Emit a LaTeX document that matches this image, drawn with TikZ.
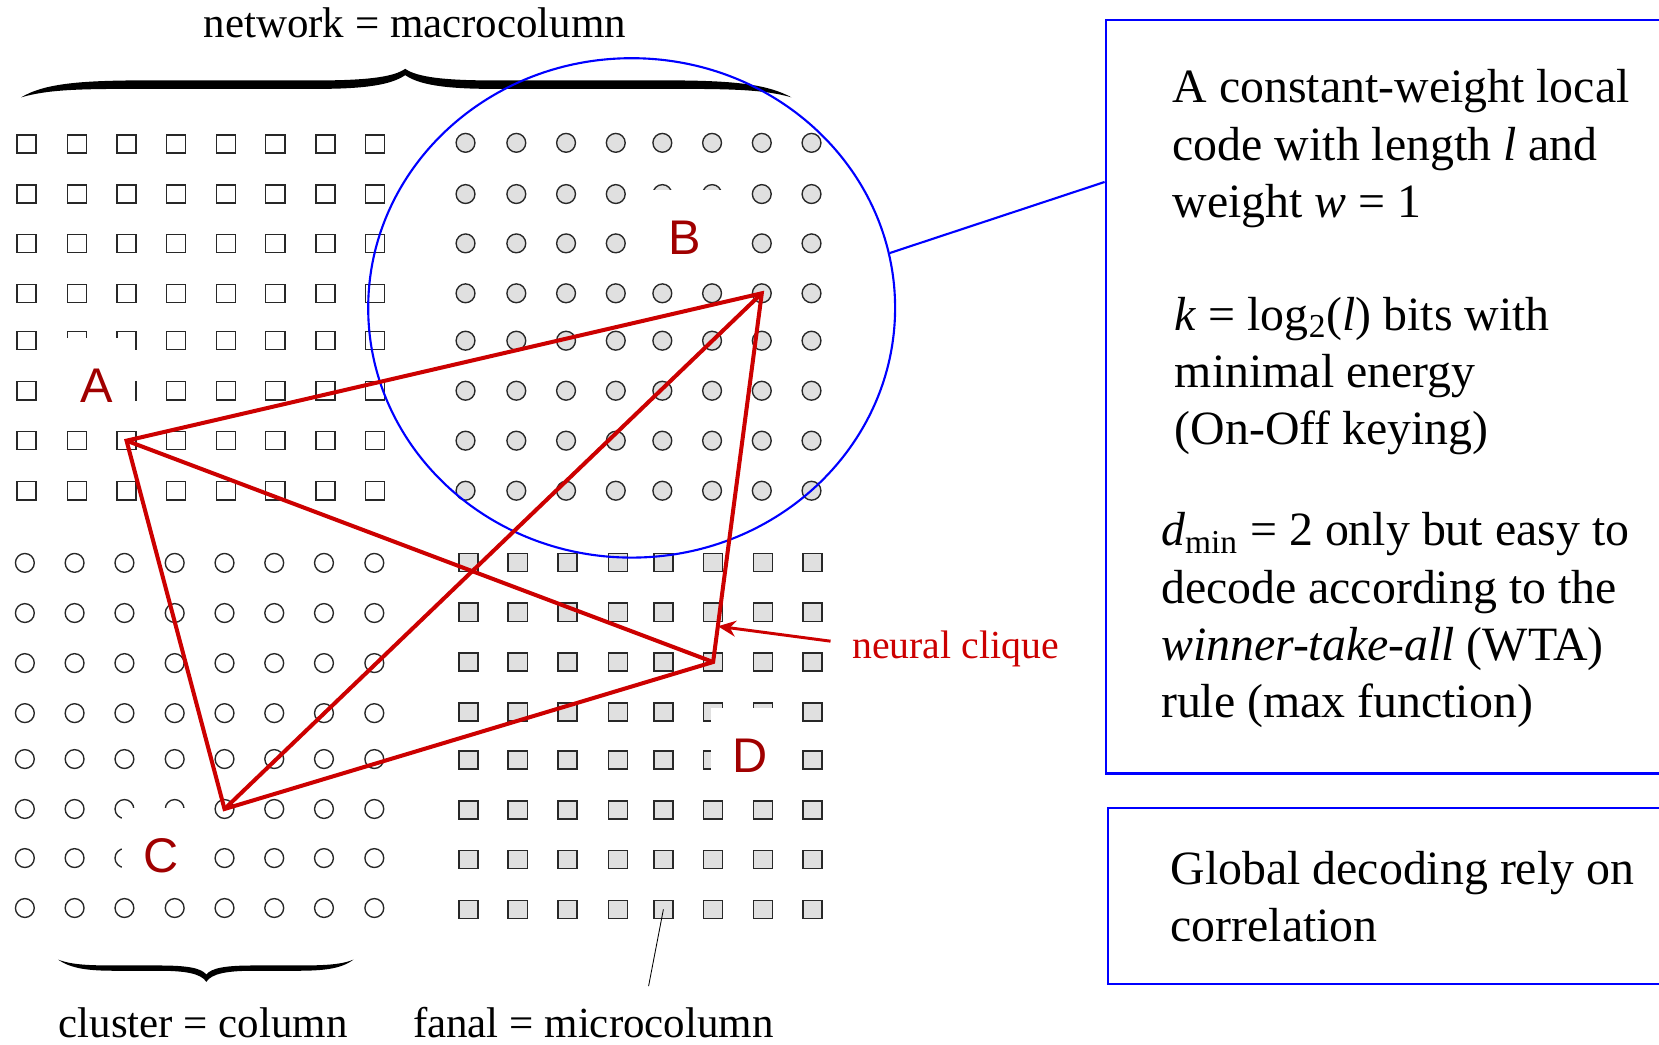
\documentclass[tikz,border=0pt]{standalone}
\usepackage{fontspec}
\setmainfont{Liberation Serif}
\newfontfamily\lblfont{Liberation Sans}
\usetikzlibrary{shapes.geometric,arrows.meta,calc}
\definecolor{cliquered}{RGB}{204,0,0}
\definecolor{lblred}{RGB}{160,0,0}
\definecolor{cellgray}{RGB}{224,224,224}
\definecolor{cellline}{RGB}{40,40,40}
\begin{document}
\begin{tikzpicture}[x=0.5pt,y=-0.5pt,
  sqw/.style={draw=cellline,line width=0.65pt,rectangle,minimum width=9pt,minimum height=8.6pt,inner sep=0},
  sqg/.style={sqw,fill=cellgray},
  ciw/.style={draw=cellline,line width=0.65pt,circle,minimum size=8.9pt,inner sep=0},
  cig/.style={ciw,fill=cellgray},
  clique/.style={draw=cliquered,line width=1.9pt,line join=miter},
  lbl/.style={fill=white,inner sep=0,minimum width=37pt,text=lblred,font=\lblfont\fontsize{23}{23}\selectfont,anchor=base},
  seriftxt/.style={font=\fontsize{20.3}{24}\selectfont,inner sep=0,anchor=base west},
  boxtext/.style={font=\fontsize{22.6}{27}\selectfont,inner sep=0,anchor=base west},
  bluebox/.style={draw=blue,line width=1pt,rectangle,inner sep=0,anchor=north west},
  bracefill/.style={fill=black},
]
\useasboundingbox (0,0) rectangle (1568,987);
\clip (0,0) rectangle (1568,987);

% top-left: white squares
\foreach \x [count=\i] in {25,72.6,119.6,166.1,213.6,260.2,307.7,354.3}
  \foreach \y [count=\j] in {136.1,183.4,230,277.2,322,369.3,416.5,463.8}
    \node[sqw] (tl-\j-\i) at (\x,\y) {};
% top-right: grey circles
\foreach \x [count=\i] in {440,488,535,582,626,673,720,767}
  \foreach \y [count=\j] in {135,183.4,230,277.2,322,369.3,416.5,463.8}
    \node[cig] (tr-\j-\i) at (\x,\y) {};
% bottom-left: white circles
\foreach \x [count=\i] in {23.5,70.5,117.6,165.1,212.2,259.2,306.2,353.8}
  \foreach \y [count=\j] in {532,579.4,626.7,674,717.4,764.6,811,858.2}
    \node[ciw] (bl-\j-\i) at (\x,\y) {};
% bottom-right: grey squares
\foreach \x [count=\i] in {442.8,489.3,536.4,583.9,627,674,721,768}
  \foreach \y [count=\j] in {531.8,578.5,625.7,673,718.3,765.6,812.2,859.5}
    \node[sqg] (br-\j-\i) at (\x,\y) {};

% labels with white backgrounds
\node[lbl] (labA) at (91,380) {\rule[-6pt]{0pt}{36.5pt}A};
\node[lbl] (labB) at (647,241) {\rule[-6pt]{0pt}{36.5pt}B};
\node[lbl] (labC) at (152,825) {\rule[-6pt]{0pt}{36.5pt}C};
\node[lbl] (labD) at (709,730) {\rule[-6pt]{0pt}{36.5pt}D};

% braces
\fill[bracefill] (20,92) .. controls (40,80) and (70,76.5) .. (125,76) -- (300,76)
  .. controls (345,76) and (372,73) .. (383,65)
  .. controls (394,73) and (421,76) .. (466,76) -- (641,76)
  .. controls (696,76.5) and (726,80) .. (748,92)
  .. controls (724,85) and (694,84) .. (641,84) -- (466,84)
  .. controls (420,84) and (396,80) .. (383,71)
  .. controls (370,80) and (346,84) .. (300,84) -- (125,84)
  .. controls (72,84) and (44,85) .. (20,92) -- cycle;
\fill[bracefill] (55,907) .. controls (68,916) and (85,917.5) .. (110,917.5) -- (150,917.5)
  .. controls (175,917.5) and (190,920) .. (195,928)
  .. controls (200,920) and (215,917.5) .. (240,917.5) -- (280,917.5)
  .. controls (305,917.5) and (322,916) .. (334,907)
  .. controls (322,912) and (305,912.5) .. (280,912.5) -- (240,912.5)
  .. controls (212,912.5) and (200,915) .. (195,921)
  .. controls (190,915) and (178,912.5) .. (150,912.5) -- (110,912.5)
  .. controls (85,912.5) and (68,912) .. (55,907) -- cycle;

% texts
\node[seriftxt] (network) at (192,35) {network = macrocolumn};
\node[seriftxt] (cluster) at (55,981) {cluster = column};
\node[seriftxt] (fanal) at (390,981) {fanal = microcolumn};

% fanal pointer
\coordinate (fanalend) at (613,932);
\draw[line width=0.4pt] (br-8-5.center) -- (fanalend);

% blue ellipse and boxes
\node[ellipse,draw=blue,line width=1pt,minimum width=249pt,minimum height=236pt,inner sep=0] (ell) at (597,291) {};
\node[bluebox,minimum width=273pt,minimum height=356pt] (box1) at (1044,18) {};
\node[bluebox,minimum width=272pt,minimum height=83pt] (box2) at (1046,763) {};
\draw[blue,line width=1pt] (ell.12) -- ($(box1.north west)+(0,154)$);

% neural clique
\draw[clique] (tl-7-3.center) -- (tr-4-7.center) -- (br-3-6.center) -- (bl-6-5.center) -- cycle;
\draw[clique] (tl-7-3.center) -- (br-3-6.center);
\draw[clique] (tr-4-7.center) -- (bl-6-5.center);

\node[font=\fontsize{18.8}{22}\selectfont,text=cliquered,inner sep=0,anchor=base west] (nc) at (805,622) {neural clique};
\coordinate (ncstart) at (785,606);
\draw[cliquered,line width=1.4pt,-{Stealth[length=8.5pt,width=7.5pt]}] (ncstart) -- ($(tr-4-7.center)!0.903!(br-3-6.center)$);

% box texts
\node[boxtext] (t1) at (1108,97) {A constant-weight local};
\node[boxtext] (t2) at (1108,152) {code with length \textit{l} and};
\node[boxtext] (t3) at (1108,206) {weight \textit{w} = 1};
\node[boxtext] (t4) at (1110,312) {\textit{k} = log\textsubscript{2}(\textit{l}) bits with};
\node[boxtext] (t5) at (1110,366) {minimal energy};
\node[boxtext] (t6) at (1110,420) {(On-Off keying)};
\node[boxtext] (t7) at (1097,516) {\textit{d}\textsubscript{min} = 2 only but easy to};
\node[boxtext] (t8) at (1097,570) {decode according to the};
\node[boxtext] (t9) at (1097,624) {\textit{winner-take-all} (WTA)};
\node[boxtext] (t10) at (1097,678) {rule (max function)};
\node[boxtext] (g1) at (1106,836) {Global decoding rely on};
\node[boxtext] (g2) at (1106,890) {correlation};
\end{tikzpicture}
\end{document}
